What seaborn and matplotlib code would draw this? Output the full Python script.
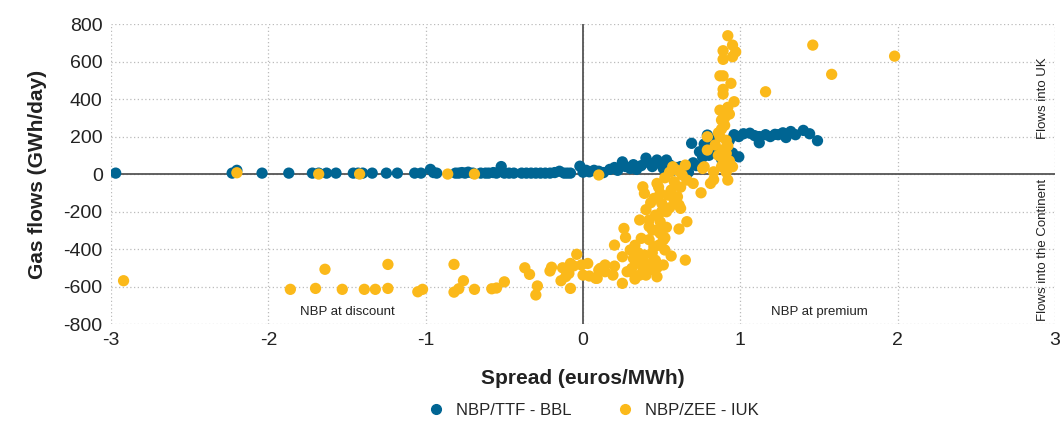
import pandas as pd
import numpy as np
import matplotlib
matplotlib.use("Agg")
import matplotlib.pyplot as plt
import seaborn as sns
from matplotlib import font_manager

# NBP/TTF - BBL : spread (euros/MWh), flow (GWh/day)
bbl_x = [-2.97, -2.23, -2.20, -2.04, -1.87, -1.72, -1.68, -1.63, -1.57, -1.46, -1.43, -1.40,
         -1.34, -1.25, -1.18, -1.07, -1.03, -0.97, -0.95, -0.93, -0.81, -0.79, -0.77, -0.75,
         -0.73, -0.70, -0.65, -0.62, -0.60, -0.57, -0.55, -0.52, -0.50, -0.47, -0.44, -0.39,
         -0.36, -0.33, -0.30, -0.27, -0.24, -0.21, -0.18, -0.15, -0.12, -0.10, -0.08, -0.02,
         0.00, 0.02, 0.04, 0.07, 0.10, 0.13, 0.17, 0.20, 0.22, 0.25, 0.27, 0.30, 0.32, 0.34,
         0.37, 0.40, 0.42, 0.44, 0.47, 0.49, 0.51, 0.53, 0.55, 0.57, 0.59, 0.62, 0.65, 0.67,
         0.69, 0.70, 0.72, 0.74, 0.76, 0.77, 0.79, 0.80, 0.82, 0.84, 0.86, 0.88, 0.90, 0.93,
         0.95, 0.96, 0.99, 0.99, 1.02, 1.06, 1.09, 1.12, 1.12, 1.16, 1.19, 1.22, 1.24, 1.27,
         1.29, 1.32, 1.35, 1.40, 1.44, 1.49]
bbl_y = [5, 5, 20, 5, 5, 5, 5, 5, 5, 5, 5, 5,
         5, 5, 5, 5, 5, 25, 8, 5, 5, 5, 8, 5,
         10, 5, 5, 5, 5, 8, 5, 40, 5, 5, 5, 5,
         5, 5, 5, 5, 5, 5, 8, 15, 5, 5, 5, 42,
         10, 20, 12, 20, 15, 8, 25, 35, 20, 65, 40, 30, 50, 25,
         45, 85, 60, 40, 75, 55, 30, 75, 50, 20, 35, 40, 25, 10,
         164, 60, 45, 119, 90, 160, 208, 100, 170, 140, 200, 80, 110, 180,
         112, 210, 200, 92, 215, 218, 205, 200, 167, 210, 200, 212, 210, 220,
         195, 227, 210, 233, 215, 178]

# NBP/ZEE - IUK
iuk_x = [-2.92, -2.20, -1.86, -1.70, -1.64, -1.68, -1.53, -1.42, -1.39, -1.32, -1.24, -1.24,
         -1.05, -1.02, -0.86, -0.82, -0.82, -0.79, -0.76, -0.69, -0.69, -0.58, -0.55, -0.50,
         -0.37, -0.34, -0.29, -0.30, -0.21, -0.20, -0.14, -0.11, -0.09, -0.13, -0.08, -0.06,
         -0.04, -0.08, -0.01, 0.03, 0.00, 0.04, 0.09, 0.10, 0.10,
         0.08, 0.11, 0.14, 0.14, 0.20, 0.20, 0.19, 0.25, 0.25, 0.26, 0.27, 0.28, 0.31, 0.30,
         0.32, 0.36, 0.37, 0.36, 0.36, 0.39, 0.40, 0.38, 0.39, 0.43, 0.42, 0.44, 0.45, 0.45,
         0.47, 0.46, 0.47, 0.47, 0.49, 0.49, 0.49, 0.50, 0.51, 0.52, 0.51, 0.53, 0.53, 0.52,
         0.54, 0.56, 0.56, 0.57, 0.58, 0.60, 0.61, 0.62, 0.61, 0.63, 0.65, 0.66, 0.65, 0.66,
         0.70, 0.75, 0.76, 0.81, 0.83, 0.83, 0.88, 0.89, 0.92,
         0.33, 0.35, 0.42, 0.44, 0.46, 0.48, 0.40, 0.43, 0.30, 0.33, 0.38, 0.47, 0.50, 0.45,
         0.48, 0.52, 0.55, 0.60, 0.62, 0.58, 0.55, 0.40, 0.42,
         0.92, 0.95, 0.89, 0.97, 0.95, 0.89, 0.87, 0.89, 0.94, 0.89, 0.89, 0.96, 0.92, 0.87,
         0.89, 0.88, 0.90, 0.93, 0.84, 0.87, 0.88, 0.90, 0.86, 0.91, 0.89, 0.92, 0.90, 0.88,
         0.91, 0.79, 0.79, 0.91, 0.95, 0.77, 0.93, 0.86, 1.46, 1.98, 1.58, 1.16]
iuk_y = [-569, 7, -615, -610, -508, 0, -615, 0, -615, -615, -482, -610,
         -628, -615, 0, -482, -630, -612, -569, 0, -615, -612, -608, -575,
         -500, -535, -597, -645, -517, -497, -569, -547, -530, -500, -477, -490,
         -428, -610, -485, -477, -539, -544, -556, -512, -5,
         -556, -503, -485, -521, -379, -491, -539, -583, -441, -290, -338, -521, -503, -405,
         -450, -245, -343, -477, -539, -432, -539, -68, -103, -153, -245, -299, -388, -459,
         -500, -219, -50, -548, -254, -316, -103, -156, -352, -405, -485, -201, -284, -340,
         -112, -85, -437, 39, -41, -121, -165, -183, -293, -5, 48, -254, -459, -32,
         -50, -100, 30, -50, -30, 12, 92, 60, -32,
         -380, -420, -350, -420, -460, -380, -480, -510, -520, -560, -500, -300, -200, -130,
         -70, -20, 10, 20, -70, -140, -180, -190, -280,
         738, 688, 658, 652, 626, 612, 524, 524, 484, 452, 427, 386, 356, 341,
         330, 288, 300, 320, 155, 199, 240, 260, 220, 180, 130, 150, 90, 40,
         10, 199, 128, 110, 39, 39, 70, 100, 688, 629, 532, 439]

series = ["NBP/TTF - BBL", "NBP/ZEE - IUK"]
colours = ["#006593", "#FBB91A"]

df = pd.concat([
    pd.DataFrame({"spread": bbl_x, "flow": bbl_y, "route": series[0]}),
    pd.DataFrame({"spread": iuk_x, "flow": iuk_y, "route": series[1]}),
])

sns.set_style("white")
names = {f.name for f in font_manager.fontManager.ttflist}
narrow = [n for n in ["Liberation Sans Narrow", "DejaVu Sans Condensed"] if n in names]
plt.rcParams["font.family"] = narrow + ["Liberation Sans", "DejaVu Sans"]
plt.rcParams["font.stretch"] = "condensed"
plt.rcParams["axes.unicode_minus"] = False

fig = plt.figure(figsize=(10.62, 4.23), dpi=100)
ax = fig.add_axes([0.1045, 0.234, 0.889, 0.709])

ax.axhline(0, color="#555555", lw=1.3, zorder=1)
ax.axvline(0, color="#555555", lw=1.3, zorder=1)

sns.scatterplot(data=df, x="spread", y="flow", hue="route", palette=colours,
                s=66, edgecolor="none", linewidth=0, alpha=1, ax=ax, zorder=3,
                legend=False)

ax.set_xlim(-3, 3)
ax.set_ylim(-800, 800)
ax.set_xticks(range(-3, 4))
ax.set_yticks(range(-800, 801, 200))
ax.grid(True, color="#bbbbbb", linestyle=(0, (1, 2)), lw=0.9)
for sp in ax.spines.values():
    sp.set_visible(False)
ax.tick_params(axis="both", labelsize=14, length=0, pad=6, colors="#222222")

ax.set_xlabel("Spread (euros/MWh)", fontsize=15, fontweight="bold", labelpad=14, color="#222222")
ax.set_ylabel("Gas flows (GWh/day)", fontsize=15, fontweight="bold", labelpad=12, color="#222222")

ax.text(-1.5, -735, "NBP at discount", ha="center", va="center", fontsize=9.5, color="#222222")
ax.text(1.5, -735, "NBP at premium", ha="center", va="center", fontsize=9.5, color="#222222")
ax.text(2.92, 404, "Flows into UK", rotation=90, ha="center", va="center", fontsize=9.5, color="#222222")
ax.text(2.92, -405, "Flows into the Continent", rotation=90, ha="center", va="center",
        fontsize=9.5, color="#222222")

handles = [plt.Line2D([], [], marker="o", ls="", color=c, markersize=7) for c in colours]
fig.legend(handles, series, loc="center", bbox_to_anchor=(0.555, 0.03), ncol=2,
           frameon=False, fontsize=12, handletextpad=0.2, columnspacing=2.2)

plt.savefig("out.png", dpi=100)
